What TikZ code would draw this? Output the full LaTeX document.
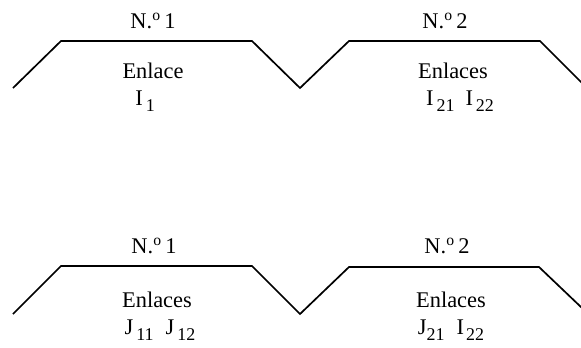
\documentclass[tikz,border=0pt]{standalone}
\usepackage{fontspec}
\setmainfont{Liberation Serif}
\newcommand\sbs[1]{\raisebox{-6bp}{\fontsize{18}{18}\selectfont #1}}
\begin{document}
\begin{tikzpicture}[x=1bp,y=-1bp,
  lbl/.style={anchor=base,inner sep=0pt,font=\fontsize{22.5}{24}\selectfont},
  road/.style={line width=1.7bp,line join=miter}]
\useasboundingbox (0,0) rectangle (581,347);
% top profile
\coordinate (a1) at (13,88);
\coordinate (a2) at (61,41);
\coordinate (a3) at (252,41);
\coordinate (a4) at (300,88);
\coordinate (a5) at (349,41);
\coordinate (a6) at (540,41);
\coordinate (a7) at (582,83);
\draw[road] (a1) -- (a2) -- (a3) -- (a4) -- (a5) -- (a6) -- (a7);
% bottom profile
\coordinate (b1) at (13,314);
\coordinate (b2) at (61,266);
\coordinate (b3) at (252,266);
\coordinate (b4) at (300,314);
\coordinate (b5) at (349,267);
\coordinate (b6) at (539,267);
\coordinate (b7) at (582,308);
\draw[road] (b1) -- (b2) -- (b3) -- (b4) -- (b5) -- (b6) -- (b7);
% labels top
\node[lbl] (n1) at (153,28) {N.\textsuperscript{o}\,1};
\node[lbl] (e1) at (153,78) {Enlace};
\node[lbl] (i1) at (145,105) {I\hspace{3bp}\sbs{1}};
\node[lbl] (n2) at (445,28) {N.\textsuperscript{o}\,2};
\node[lbl] (e2) at (453,78) {Enlaces};
\node[lbl] (i2) at (460,105) {I\hspace{3bp}\sbs{21}\hspace{11bp}I\hspace{3bp}\sbs{22}};
% labels bottom
\node[lbl] (n3) at (154,253) {N.\textsuperscript{o}\,1};
\node[lbl] (e3) at (157,307) {Enlaces};
\node[lbl] (j1) at (160,334) {J\hspace{3bp}\sbs{11}\hspace{12bp}J\hspace{3bp}\sbs{12}};
\node[lbl] (n4) at (447,253) {N.\textsuperscript{o}\,2};
\node[lbl] (e4) at (451,307) {Enlaces};
\node[lbl] (j2) at (451,334) {J\sbs{21}\hspace{12bp}I\hspace{2bp}\sbs{22}};
\end{tikzpicture}
\end{document}
